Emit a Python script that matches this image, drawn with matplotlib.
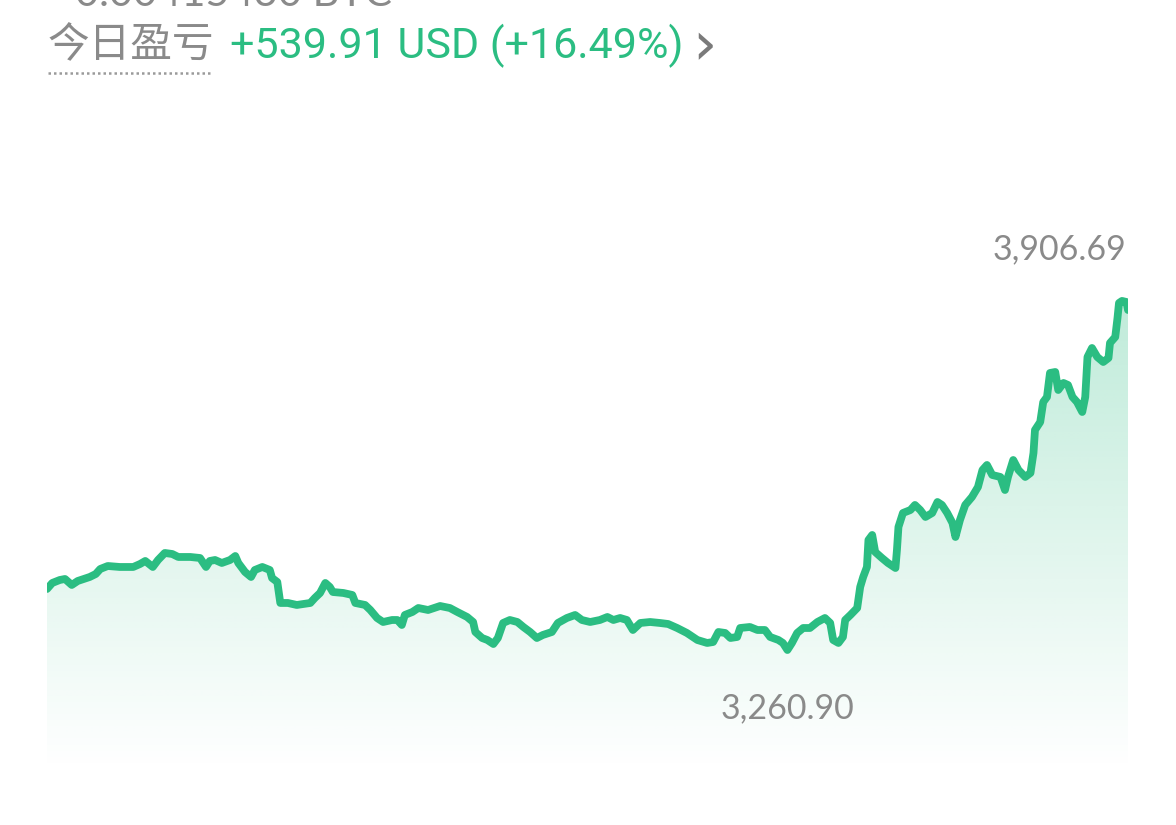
import numpy as np
import matplotlib
matplotlib.use("Agg")
import matplotlib.pyplot as plt
from matplotlib.colors import to_rgb

# 时间 (分钟, 0-1440) 和 价格 (USD)
minutes = [0, 7, 17, 24, 33, 41, 57, 65, 71, 81, 97, 115, 124, 131, 141, 148, 157, 167, 175, 191,
           204, 212, 217, 224, 233, 244, 251, 255, 264, 272, 277, 287, 297, 300, 307, 311, 321, 333, 351, 357,
           364, 371, 377, 381, 395, 407, 411, 424, 431, 440, 448, 460, 467, 473, 477, 487, 495, 508, 524, 537,
           547, 560, 568, 571, 580, 587, 595, 601, 608, 617, 627, 635, 644, 653, 661, 673, 681, 693, 704, 713,
           724, 737, 747, 755, 764, 773, 781, 791, 804, 817, 828, 840, 853, 867, 880, 888, 895, 904, 911, 920,
           924, 937, 947, 957, 964, 975, 981, 987, 993, 1000, 1008, 1017, 1027, 1037, 1044, 1048, 1055, 1061, 1064, 1071,
           1080, 1084, 1088, 1093, 1095, 1100, 1104, 1113, 1121, 1131, 1133, 1135, 1141, 1151, 1157, 1164, 1171, 1180, 1187, 1193,
           1200, 1207, 1211, 1217, 1224, 1233, 1241, 1247, 1253, 1260, 1271, 1277, 1281, 1288, 1295, 1304, 1311, 1315, 1317, 1324,
           1328, 1333, 1337, 1344, 1348, 1355, 1361, 1367, 1373, 1380, 1384, 1387, 1393, 1400, 1408, 1415, 1417, 1424, 1427, 1429,
           1433, 1439, 1441]
price = [3373.8, 3384.9, 3390.4, 3392.3, 3381.2, 3388.6, 3396.0, 3401.5, 3410.8, 3416.3, 3414.5, 3414.5, 3420.0, 3425.6, 3414.5, 3427.4, 3440.4, 3438.5, 3433.0, 3433.0,
         3431.1, 3414.5, 3425.6, 3427.4, 3421.9, 3427.4, 3434.8, 3421.9, 3405.2, 3396.0, 3408.9, 3414.5, 3408.9, 3394.1, 3386.7, 3347.9, 3347.9, 3344.2, 3347.9, 3357.1,
         3366.4, 3384.9, 3377.5, 3368.2, 3366.4, 3362.7, 3347.9, 3344.2, 3334.9, 3320.1, 3312.7, 3316.4, 3316.4, 3307.2, 3325.7, 3331.2, 3338.6, 3334.9, 3342.3, 3338.6,
         3331.2, 3322.0, 3312.7, 3294.2, 3283.1, 3279.4, 3272.0, 3283.1, 3310.9, 3316.4, 3312.7, 3303.5, 3294.2, 3283.1, 3288.7, 3294.2, 3310.9, 3320.1, 3325.7, 3316.4,
         3312.7, 3316.4, 3322.0, 3316.4, 3320.1, 3316.4, 3297.9, 3310.9, 3312.7, 3310.9, 3309.0, 3301.6, 3292.4, 3279.4, 3273.9, 3275.7, 3294.2, 3292.4, 3283.1, 3285.0,
         3301.6, 3303.5, 3297.9, 3297.9, 3285.0, 3279.4, 3273.9, 3260.90, 3273.9, 3292.4, 3301.6, 3301.6, 3312.7, 3320.1, 3310.9, 3279.4, 3273.9, 3285.0, 3316.4, 3325.7,
         3338.6, 3377.5, 3396.0, 3414.5, 3464.4, 3473.7, 3442.2, 3431.1, 3421.9, 3412.6, 3445.9, 3488.5, 3514.4, 3519.9, 3529.2, 3519.9, 3507.0, 3514.4, 3534.7, 3529.2,
         3514.4, 3495.9, 3470.0, 3501.4, 3529.2, 3544.0, 3562.5, 3593.9, 3603.2, 3584.7, 3581.0, 3556.9, 3581.0, 3612.4, 3593.9, 3581.0, 3588.4, 3625.4, 3667.9, 3682.7,
         3719.7, 3729.0, 3773.4, 3775.2, 3741.9, 3754.9, 3751.2, 3729.0, 3719.7, 3701.2, 3729.0, 3803.0, 3819.6, 3803.0, 3793.7, 3801.1, 3828.9, 3840.0, 3875.1, 3902.9,
         3906.69, 3904.7, 3889.9]

pnl_label = "今日盈亏"
pnl_text = "+539.91 USD (+16.49%)"
balance_text = "0.00415430 BTC"

green = "#2bbd82"
gray = "#8a8a8a"

t = np.array(minutes)
p = np.array(price)

fig = plt.figure(figsize=(11.76, 8.25), dpi=100)
ax = fig.add_axes([47 / 1176, 55 / 825, 1081 / 1176, 520 / 825])
ax.set_xlim(0, 1441)
ax.set_ylim(3038.9, 4000.9)
ax.axis("off")

# 渐变填充
poly = ax.fill_between(t, p, 3038.9, color="none", lw=0)
rgb = to_rgb(green)
grad = np.zeros((256, 2, 4))
grad[:, :, :3] = rgb
grad[:, :, 3] = np.linspace(0.0, 0.30, 256)[:, None]
img = ax.imshow(grad, extent=[0, 1441, 3038.9, 3906.69], origin="lower",
                aspect="auto", zorder=1, interpolation="bilinear")
img.set_clip_path(poly.get_paths()[0], transform=ax.transData)

ax.plot(t, p, color=green, lw=5.6, solid_capstyle="round", solid_joinstyle="round", zorder=3)

# 最高/最低标注
imax = int(np.argmax(p))
imin = int(np.argmin(p))
ax.annotate(f"{p[imax]:,.2f}", xy=(t[imax], p[imax]), xytext=(3, 37), textcoords="offset points",
            ha="right", va="center", fontsize=24.5, color=gray, family="Lato")
ax.annotate(f"{p[imin]:,.2f}", xy=(t[imin], p[imin]), xytext=(0, -42), textcoords="offset points",
            ha="center", va="center", fontsize=24.5, color=gray, family="Lato")

# 顶部文字
fig.text(75 / 1176, 1 - 6 / 825, balance_text, fontsize=30, color=gray, family="Lato", va="baseline")
fig.text(48 / 1176, 1 - 46 / 825, pnl_label, fontsize=30, color=gray,
         family=["Noto Sans CJK SC", "DejaVu Sans"], va="center")
fig.text(230 / 1176, 1 - 46 / 825, pnl_text, fontsize=31, color=green, family="Roboto", va="center")
fig.text(692 / 1176, 1 - 48 / 825, "›", fontsize=44, color="#7a7a7a", family="DejaVu Sans", va="center")
fig.add_artist(plt.Line2D([48 / 1176, 212 / 1176], [1 - 73 / 825, 1 - 73 / 825],
                          color="#9a9a9a", lw=1.8, ls=(0, (1, 1.2))))

fig.savefig("out.png", dpi=100)
